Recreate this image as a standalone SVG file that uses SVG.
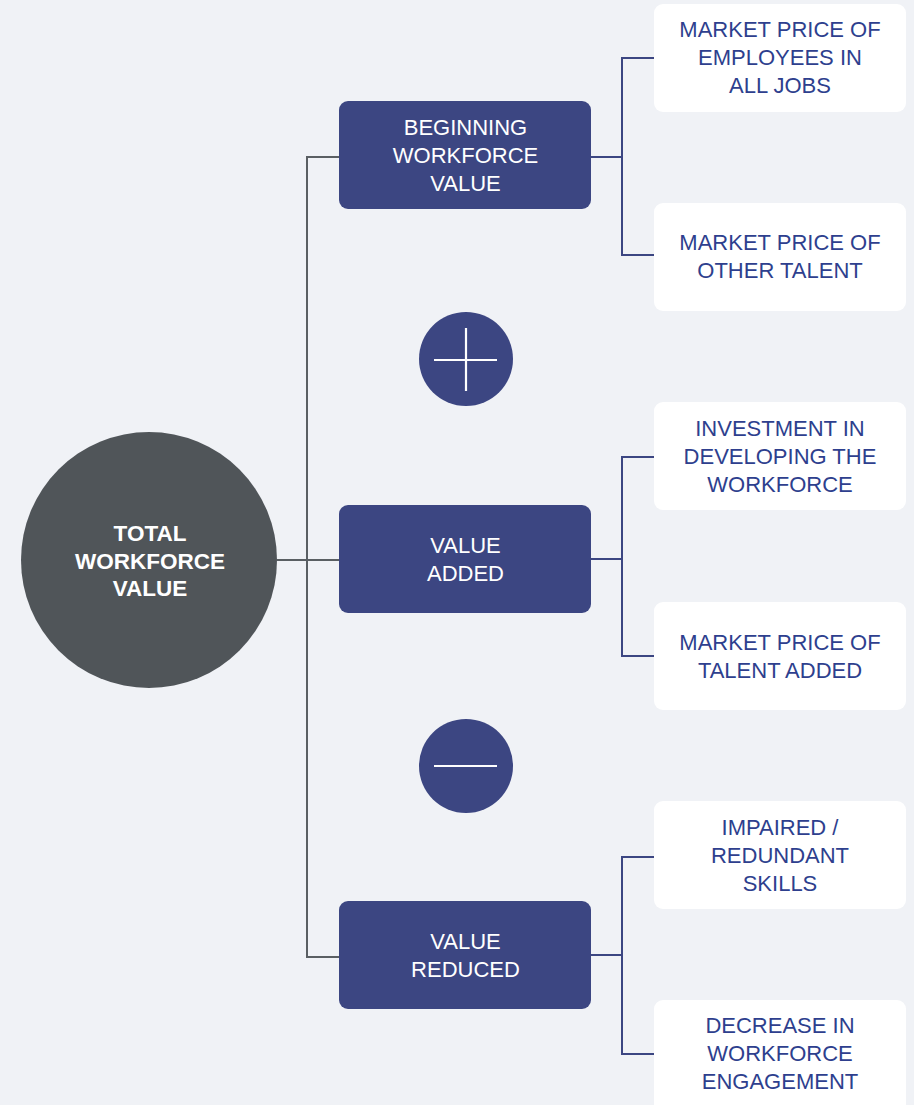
<svg xmlns="http://www.w3.org/2000/svg" width="914" height="1105" viewBox="0 0 914 1105">
<style>
.bg{fill:#f0f2f6}
.dark{fill:#3c4682}
.leaf{fill:#ffffff}
.t{font-family:"Liberation Sans",Arial,sans-serif;font-size:22px;text-anchor:middle}
.tw{fill:#ffffff}
.tb{fill:#2e3f8e}
.tc{font-weight:bold;font-size:22.5px}
.cg{fill:none;stroke:#5a5f63;stroke-width:2}
.cb{fill:none;stroke:#3c4682;stroke-width:2}
.sym{stroke:#ffffff;stroke-width:2.2}
</style>
<rect class="bg" x="0" y="0" width="914" height="1105"/>
<g id="connectors">
<path class="cg" d="M339 157 H307 V957 H339 M277 560 H339"/>
<path class="cb" d="M591 157 H622 M654 58 H622 V255 H654"/>
<path class="cb" d="M591 559 H622 M654 457 H622 V656 H654"/>
<path class="cb" d="M591 955 H622 M654 857 H622 V1054 H654"/>
</g>
<g id="total">
<circle cx="149" cy="560" r="128" fill="#505559"/>
<text class="t tw tc" x="150" y="541">TOTAL</text>
<text class="t tw tc" x="150" y="568.5">WORKFORCE</text>
<text class="t tw tc" x="150" y="596">VALUE</text>
</g>
<g id="beginning">
<rect class="dark" x="339" y="101" width="252" height="108" rx="9"/>
<text class="t tw" x="465.5" y="135">BEGINNING</text>
<text class="t tw" x="465.5" y="163">WORKFORCE</text>
<text class="t tw" x="465.5" y="191">VALUE</text>
</g>
<g id="added">
<rect class="dark" x="339" y="505" width="252" height="108" rx="9"/>
<text class="t tw" x="465.5" y="553">VALUE</text>
<text class="t tw" x="465.5" y="581">ADDED</text>
</g>
<g id="reduced">
<rect class="dark" x="339" y="901" width="252" height="108" rx="9"/>
<text class="t tw" x="465.5" y="949">VALUE</text>
<text class="t tw" x="465.5" y="977">REDUCED</text>
</g>
<g id="plus">
<circle class="dark" cx="466" cy="359" r="47"/>
<line class="sym" x1="434" y1="360" x2="497" y2="360"/>
<line class="sym" x1="466" y1="328" x2="466" y2="391"/>
</g>
<g id="minus">
<circle class="dark" cx="466" cy="766" r="47"/>
<line class="sym" x1="434" y1="766" x2="497" y2="766" stroke-width="2.6"/>
</g>
<g id="leaf1">
<rect class="leaf" x="654" y="4" width="252" height="108" rx="9"/>
<text class="t tb" x="780" y="37">MARKET PRICE OF</text>
<text class="t tb" x="780" y="65">EMPLOYEES IN</text>
<text class="t tb" x="780" y="93">ALL JOBS</text>
</g>
<g id="leaf2">
<rect class="leaf" x="654" y="203" width="252" height="108" rx="9"/>
<text class="t tb" x="780" y="250">MARKET PRICE OF</text>
<text class="t tb" x="780" y="278">OTHER TALENT</text>
</g>
<g id="leaf3">
<rect class="leaf" x="654" y="402" width="252" height="108" rx="9"/>
<text class="t tb" x="780" y="436">INVESTMENT IN</text>
<text class="t tb" x="780" y="464">DEVELOPING THE</text>
<text class="t tb" x="780" y="492">WORKFORCE</text>
</g>
<g id="leaf4">
<rect class="leaf" x="654" y="602" width="252" height="108" rx="9"/>
<text class="t tb" x="780" y="650">MARKET PRICE OF</text>
<text class="t tb" x="780" y="678">TALENT ADDED</text>
</g>
<g id="leaf5">
<rect class="leaf" x="654" y="801" width="252" height="108" rx="9"/>
<text class="t tb" x="780" y="835">IMPAIRED /</text>
<text class="t tb" x="780" y="863">REDUNDANT</text>
<text class="t tb" x="780" y="891">SKILLS</text>
</g>
<g id="leaf6">
<rect class="leaf" x="654" y="1000" width="252" height="115" rx="9"/>
<text class="t tb" x="780" y="1033">DECREASE IN</text>
<text class="t tb" x="780" y="1061">WORKFORCE</text>
<text class="t tb" x="780" y="1089">ENGAGEMENT</text>
</g>
</svg>
